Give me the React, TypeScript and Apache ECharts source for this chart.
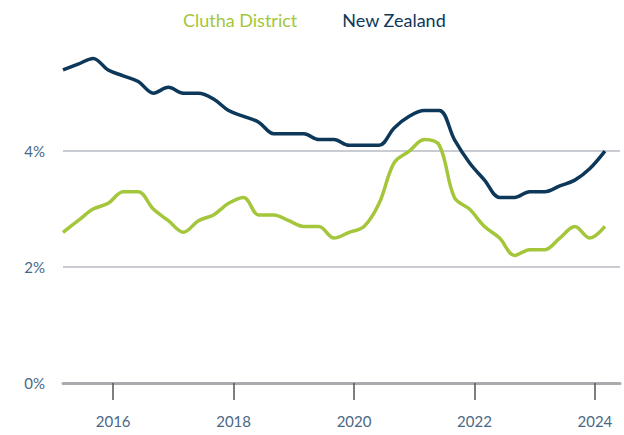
import React, { useEffect, useRef } from "react";
import * as echarts from "echarts";

const quarters = [
  "2015-03", "2015-06", "2015-09", "2015-12",
  "2016-03", "2016-06", "2016-09", "2016-12",
  "2017-03", "2017-06", "2017-09", "2017-12",
  "2018-03", "2018-06", "2018-09", "2018-12",
  "2019-03", "2019-06", "2019-09", "2019-12",
  "2020-03", "2020-06", "2020-09", "2020-12",
  "2021-03", "2021-06", "2021-09", "2021-12",
  "2022-03", "2022-06", "2022-09", "2022-12",
  "2023-03", "2023-06", "2023-09", "2023-12",
  "2024-03",
];

const clutha = [
  2.6, 2.8, 3.0, 3.1, 3.3, 3.3, 3.0, 2.8, 2.6, 2.8, 2.9, 3.1, 3.2, 2.9, 2.9, 2.8,
  2.7, 2.7, 2.5, 2.6, 2.7, 3.1, 3.8, 4.0, 4.2, 4.1, 3.2, 3.0, 2.7, 2.5, 2.2, 2.3,
  2.3, 2.5, 2.7, 2.5, 2.7,
];

const newZealand = [
  5.4, 5.5, 5.6, 5.4, 5.3, 5.2, 5.0, 5.1, 5.0, 5.0, 4.9, 4.7, 4.6, 4.5, 4.3, 4.3,
  4.3, 4.2, 4.2, 4.1, 4.1, 4.1, 4.4, 4.6, 4.7, 4.7, 4.2, 3.8, 3.5, 3.2, 3.2, 3.3,
  3.3, 3.4, 3.5, 3.7, 4.0,
];

const xTicks = [2016, 2018, 2020, 2022, 2024];
const yTicks = [0, 2, 4];

const GREEN = "#a3c63b";
const NAVY = "#0d3859";
const LABEL = "#4a6784";
const FONT = "Lato, 'Open Sans', sans-serif";

function toYear(q: string): number {
  const [y, m] = q.split("-").map(Number);
  return y + (m - 1) / 12;
}

export default function App() {
  const ref = useRef<HTMLDivElement>(null);
  useEffect(() => {
    document.body.style.margin = "0";
    if (!ref.current) return;
    const chart = echarts.init(ref.current, undefined, { renderer: "svg" });
    const xs = quarters.map(toYear);
    chart.setOption({
      animation: false,
      textStyle: { fontFamily: FONT },
      legend: {
        top: 6,
        left: "center",
        itemWidth: 0,
        itemHeight: 0,
        itemGap: 40,
        icon: "rect",
        textStyle: { fontSize: 18, fontFamily: FONT },
        data: [
          { name: "Clutha District", textStyle: { color: GREEN } },
          { name: "New Zealand", textStyle: { color: NAVY } },
        ],
      },
      grid: { left: 63, right: 4, top: 41, bottom: 52 },
      xAxis: {
        type: "value",
        min: toYear("2015-03"),
        max: toYear("2024-06"),
        splitLine: { show: false },
        axisLine: { show: true, onZero: false, lineStyle: { color: "#a9abae", width: 3 } },
        axisTick: {
          show: true,
          customValues: xTicks,
          length: 17,
          lineStyle: { color: "#555", width: 1.5 },
        },
        axisLabel: {
          customValues: xTicks,
          color: LABEL,
          fontSize: 15,
          margin: 30,
          formatter: (v: number) => String(Math.round(v)),
        },
      },
      yAxis: {
        type: "value",
        min: 0,
        max: 5.9,
        interval: 2,
        axisLine: { show: false },
        axisTick: { show: false },
        axisLabel: {
          customValues: yTicks,
          color: LABEL,
          fontSize: 15,
          margin: 18,
          formatter: (v: number) => `${v}%`,
        },
        splitLine: {
          show: true,
          showMaxLine: false,
          lineStyle: { color: "#c9cdd3", width: 2 },
        },
      },
      series: [
        {
          name: "Clutha District",
          type: "line",
          data: xs.map((x, i) => [x, clutha[i]]),
          smooth: 0.35,
          showSymbol: false,
          lineStyle: { color: GREEN, width: 3.5 },
          itemStyle: { color: GREEN },
          z: 3,
        },
        {
          name: "New Zealand",
          type: "line",
          data: xs.map((x, i) => [x, newZealand[i]]),
          smooth: 0.35,
          showSymbol: false,
          lineStyle: { color: NAVY, width: 3.5 },
          itemStyle: { color: NAVY },
          z: 3,
        },
      ],
    });
    return () => chart.dispose();
  }, []);
  return <div ref={ref} style={{ width: 624, height: 435 }} />;
}
